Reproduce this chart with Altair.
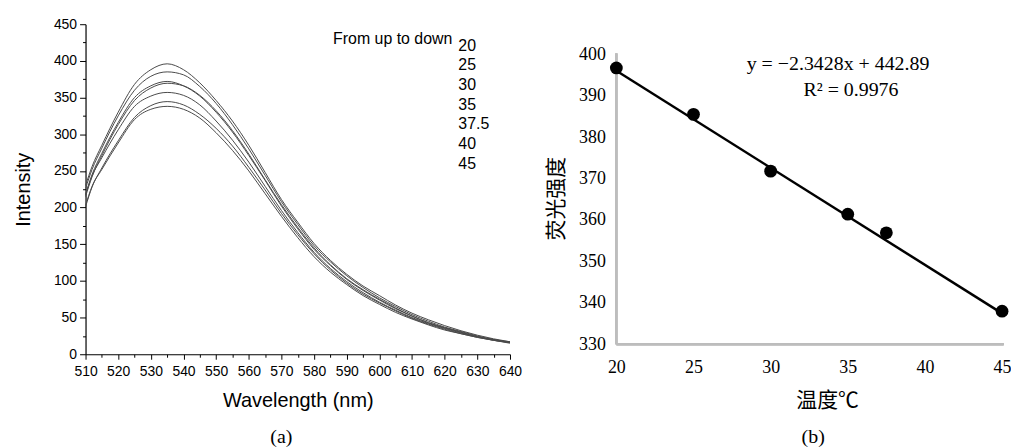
import altair as alt
import pandas as pd

# ---------------- data: panel (a) emission spectra ----------------
wavelength = [510, 512, 515, 520, 525, 530, 535, 540, 545, 550, 555, 560, 565, 570,
              575, 580, 585, 590, 595, 600, 605, 610, 615, 620, 625, 630, 635, 640]
temps = ["20", "25", "30", "35", "37.5", "40", "45"]
spec_20 = [230, 256, 285, 330, 368, 388, 396, 388, 370, 346, 318, 285, 248, 211,
           180, 151, 128, 109, 93, 80, 67, 56, 47, 39, 32, 26, 21, 17]
spec_25 = [226, 252, 281, 325, 360, 379, 385, 381, 365, 342, 313, 280, 244, 208,
           177, 148, 126, 107, 91, 77, 65, 54, 45, 37, 31, 25, 20, 17]
spec_30 = [218, 245, 274, 316, 350, 366, 372, 366, 352, 330, 303, 271, 237, 202,
           171, 143, 121, 102, 87, 74, 62, 52, 43, 36, 30, 24, 20, 16]
spec_35 = [215, 242, 271, 313, 346, 363, 369.5, 366, 353, 332, 305, 273, 238, 204,
           173, 145, 122, 103, 88, 75, 63, 52, 43, 36, 30, 24, 20, 16]
spec_375 = [217, 243, 268, 306, 338, 352, 357, 353, 340, 318, 292, 262, 229, 196,
            166, 139, 117, 99, 84, 71, 60, 50, 42, 35, 29, 24, 19, 16]
spec_40 = [201, 228, 254, 291, 323, 339, 344.5, 340, 327, 308, 284, 255, 224, 192,
           163, 137, 115, 97, 82, 70, 59, 49, 41, 34, 28, 23, 19, 16]
spec_45 = [203, 229, 252, 288, 320, 334, 338, 334, 322, 302, 278, 250, 219, 188,
           159, 133, 112, 95, 80, 68, 57, 48, 40, 33, 28, 23, 19, 15]
spectra = [spec_20, spec_25, spec_30, spec_35, spec_375, spec_40, spec_45]

legend_head = "From up to down"
legend_labels = temps
caption_a = "(a)"
caption_b = "(b)"

# ---------------- data: panel (b) linear fit ----------------
temp_pts = [20, 25, 30, 35, 37.5, 45]
inten_pts = [396.7, 385.5, 371.8, 361.4, 356.9, 338.0]
fit_x = [20, 45]
fit_y = [396.03, 337.47]
equation = "y = \u22122.3428x + 442.89"
r2_text = "R\u00b2 = 0.9976"

rows = []
for t, s in zip(temps, spectra):
    for w, v in zip(wavelength, s):
        rows.append({"wl": w, "val": v, "temp": t})
spec_df = pd.DataFrame(rows)
pts_df = pd.DataFrame({"t": temp_pts, "i": inten_pts})
fit_df = pd.DataFrame({"t": fit_x, "i": fit_y})

SANS = "Liberation Sans"
SERIF = "Liberation Serif, Noto Sans CJK SC"

# ---------------- panel (a) ----------------
LW, LH = 427, 332
xa = alt.X("wl:Q", title="Wavelength (nm)",
           scale=alt.Scale(domain=[510, 640], nice=False, zero=False),
           axis=alt.Axis(values=list(range(510, 641, 5)),
                         labelExpr="datum.value % 10 === 0 ? datum.label : ''",
                         tickSize={"condition": {"test": "datum.value % 10 === 0", "value": 5}, "value": 3},
                         labelFlush=False, labelOverlap=False,
                         grid=False, domainColor="black", tickColor="black", domainWidth=1.2,
                         labelFont=SANS, labelFontSize=14, labelColor="black", labelPadding=5,
                         titleFont=SANS, titleFontSize=20, titleFontWeight="normal",
                         titleColor="black", titlePadding=13))
ya = alt.Y("val:Q", title="Intensity",
           scale=alt.Scale(domain=[0, 450], nice=False),
           axis=alt.Axis(values=list(range(0, 451, 25)),
                         labelExpr="datum.value % 50 === 0 ? datum.label : ''",
                         tickSize={"condition": {"test": "datum.value % 50 === 0", "value": 6}, "value": 3},
                         labelFlush=False, labelOverlap=False,
                         grid=False, domainColor="black", tickColor="black", domainWidth=1.2,
                         labelFont=SANS, labelFontSize=14, labelColor="black", labelPadding=3,
                         titleFont=SANS, titleFontSize=20, titleFontWeight="normal",
                         titleColor="black", titlePadding=20))

lines = alt.Chart(spec_df).mark_line(color="#4a4a4a", strokeWidth=1,
                                     interpolate="monotone").encode(
    x=xa, y=ya, detail="temp:N")

head = alt.Chart(pd.DataFrame({"txt": [legend_head]})).mark_text(
    align="left", baseline="middle", font=SANS, fontSize=16, color="black").encode(
    x=alt.value(249), y=alt.value(15), text="txt:N")
nums = alt.Chart(pd.DataFrame({"txt": ["\n".join(legend_labels)]})).mark_text(
    align="left", baseline="middle", font=SANS, fontSize=16, color="black",
    lineBreak="\n", lineHeight=19.8).encode(
    x=alt.value(375), y=alt.value(21.5), text="txt:N")
cap_a = alt.Chart(pd.DataFrame({"txt": [caption_a]})).mark_text(
    align="center", baseline="middle", font="Liberation Serif", fontSize=20, color="black").encode(
    x=alt.value(197), y=alt.value(415), text="txt:N")

left = alt.layer(lines, head, nums, cap_a).properties(width=LW, height=LH)

# ---------------- panel (b) ----------------
RW, RH = 388, 332
xb = alt.X("t:Q", title="温度℃",
           scale=alt.Scale(domain=[20, 45], nice=False, zero=False),
           axis=alt.Axis(values=[20, 25, 30, 35, 40, 45], domain=False, ticks=False, grid=False,
                         labelFlush=False, labelOverlap=False,
                         labelFont="Liberation Serif", labelFontSize=18, labelColor="black",
                         labelPadding=4, titleFont=SERIF, titleFontSize=21,
                         titleFontWeight="normal", titleColor="black", titlePadding=14,
                         titleX=212))
yb = alt.Y("i:Q", title="荧光强度",
           scale=alt.Scale(domain=[327.6, 407.26], nice=False, zero=False),
           axis=alt.Axis(values=[330, 340, 350, 360, 370, 380, 390, 400], domain=False,
                         ticks=False, grid=False, labelFlush=False, labelOverlap=False,
                         labelFont="Liberation Serif", labelFontSize=18, labelColor="black",
                         labelPadding=11, titleFont=SERIF, titleFontSize=21,
                         titleFontWeight="normal", titleColor="black", titlePadding=12,
                         titleY=175))

axis_col = "#bdbdbd"
yline = alt.Chart(pts_df).mark_rule(color=axis_col, strokeWidth=2).encode(
    x=alt.datum(20), y=alt.datum(330), y2=alt.datum(400.2))
xline = alt.Chart(pts_df).mark_rule(color=axis_col, strokeWidth=2).encode(
    y=alt.datum(330), x=alt.datum(20), x2=alt.datum(45.1))
fit = alt.Chart(fit_df).mark_line(color="black", strokeWidth=2.5).encode(x=xb, y=yb)
pts = alt.Chart(pts_df).mark_point(filled=True, color="black", opacity=1, size=165,
                                   clip=False).encode(x="t:Q", y="i:Q")
eq = alt.Chart(pd.DataFrame({"txt": [equation]})).mark_text(
    align="center", baseline="middle", font="Liberation Serif", fontSize=20, color="black").encode(
    x=alt.value(223), y=alt.value(40), text="txt:N")
r2 = alt.Chart(pd.DataFrame({"txt": [r2_text]})).mark_text(
    align="center", baseline="middle", font="Liberation Serif", fontSize=20, color="black").encode(
    x=alt.value(236), y=alt.value(66), text="txt:N")
cap_b = alt.Chart(pd.DataFrame({"txt": [caption_b]})).mark_text(
    align="center", baseline="middle", font="Liberation Serif", fontSize=20, color="black").encode(
    x=alt.value(198), y=alt.value(415), text="txt:N")

right = alt.layer(yline, xline, fit, pts, eq, r2, cap_b).properties(width=RW, height=RH)

chart = alt.hconcat(left, right, spacing=107, bounds="flush").properties(
    padding={"left": 5, "top": 8, "right": 0, "bottom": 0},
    background="white"
).configure_view(stroke=None)

chart.save("out.html", embed_options={"renderer": "svg", "actions": False})
